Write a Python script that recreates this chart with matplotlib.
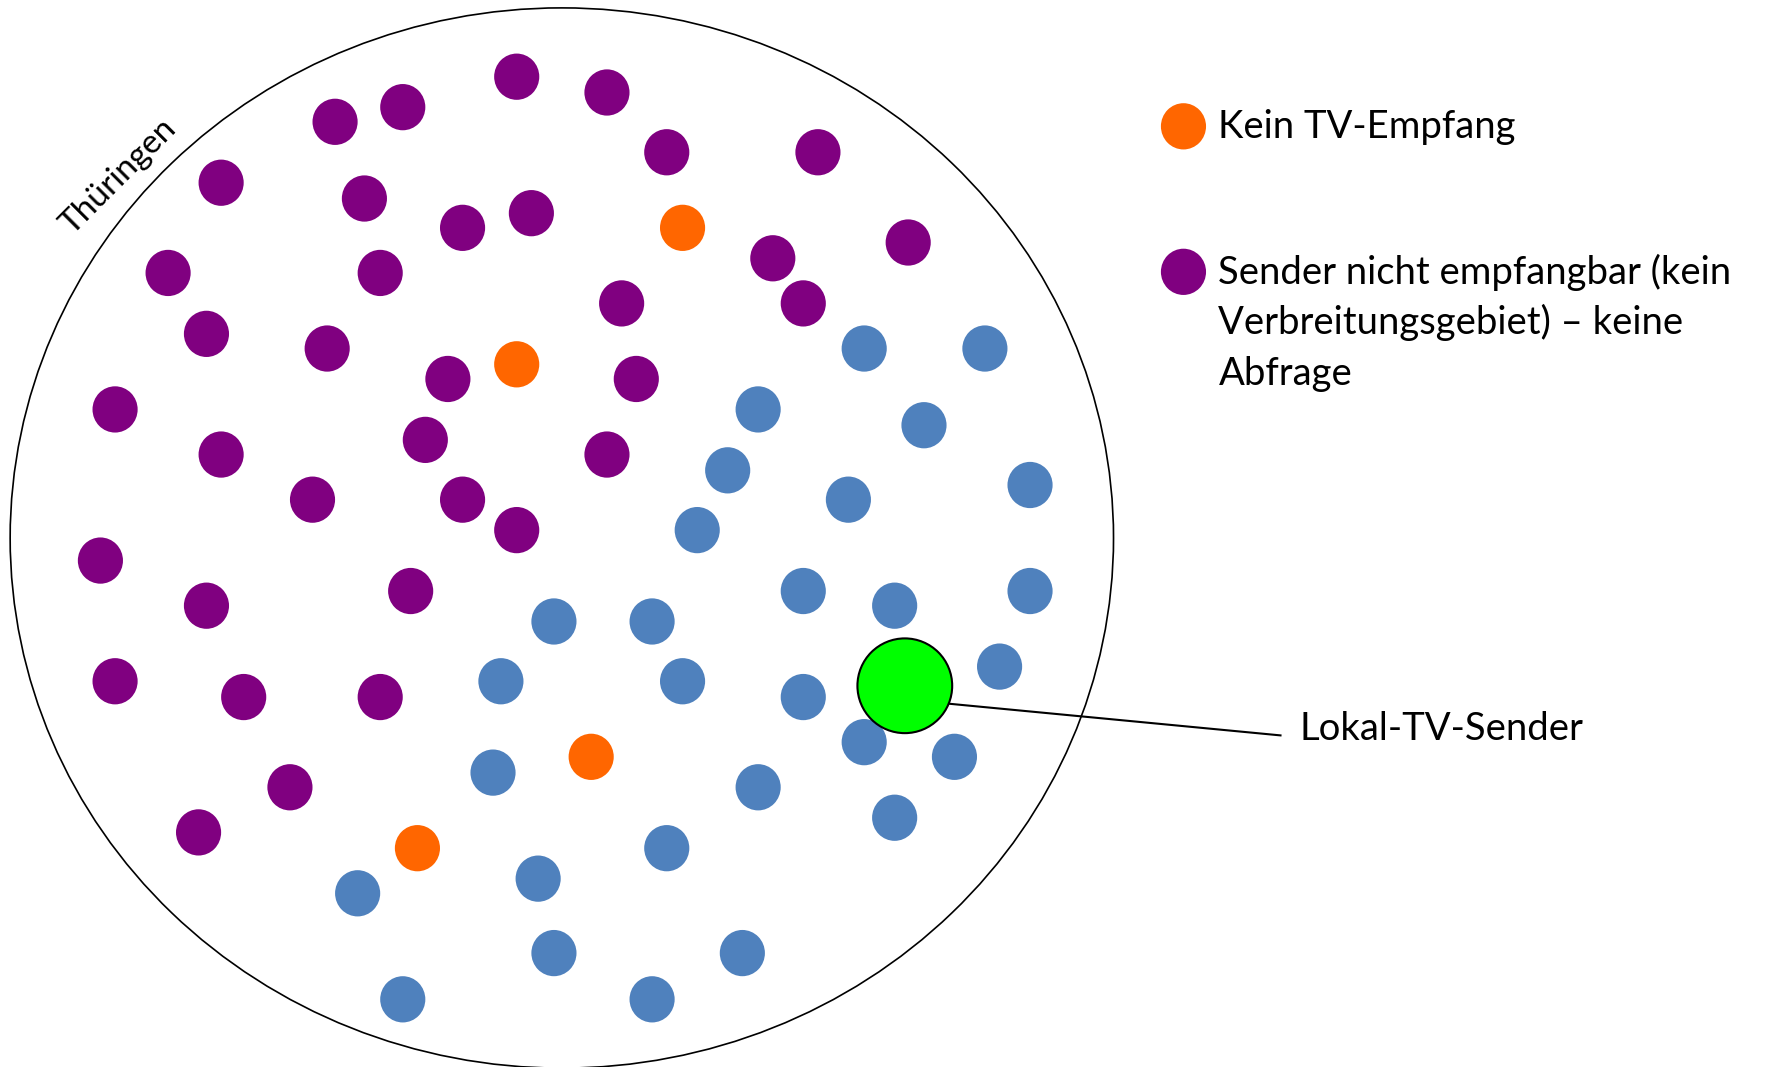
import matplotlib
matplotlib.use("Agg")
import matplotlib.pyplot as plt
from matplotlib.patches import Ellipse, Circle

# dot positions in image units (1568 x 946 canvas)
purple_x = [458, 538, 357, 297, 196, 591, 725, 323, 410, 471, 805, 685, 149, 337, 551, 712, 183, 290,
            397, 564, 102, 377, 196, 538, 277, 410, 458, 89, 364, 183, 102, 216, 337, 257, 176]
purple_y = [68, 82, 95, 108, 162, 135, 135, 176, 202, 189, 215, 229, 242, 242, 269, 269, 296, 309,
            336, 336, 363, 390, 403, 403, 443, 443, 470, 497, 524, 537, 604, 618, 618, 698, 738]
orange_x = [605, 458, 524, 370]
orange_y = [202, 323, 671, 752]
blue_x = [766, 873, 672, 819, 645, 752, 913, 618, 712, 793, 913, 491, 578, 886, 444, 605, 712, 766,
          846, 437, 672, 793, 591, 477, 317, 491, 658, 357, 578]
blue_y = [309, 309, 363, 377, 417, 443, 430, 470, 524, 537, 524, 551, 551, 591, 604, 604, 618, 658,
          671, 685, 698, 725, 752, 779, 792, 845, 845, 886, 886]
sender_x, sender_y = 802, 608

legend_labels = ["Kein TV-Empfang",
                 "Sender nicht empfangbar (kein\nVerbreitungsgebiet) \u2013 keine\nAbfrage"]
legend_colors = ["#FF6600", "#800080"]
legend_y = [112, 241]

PURPLE = "#800080"
ORANGE = "#FF6600"
BLUE = "#4F81BD"
GREEN = "#00FF00"
FONT = ["Lato", "DejaVu Sans"]

W, H = 1568, 946
fig = plt.figure(figsize=(17.69, 10.67), dpi=100)
ax = fig.add_axes([0, 0, 1, 1])
ax.set_xlim(0, W)
ax.set_ylim(H, 0)
ax.axis("off")

ax.add_patch(Ellipse((498, 477), 978, 940, fill=False, edgecolor="black", linewidth=1.2))

R = 20
for xs, ys, c in [(purple_x, purple_y, PURPLE), (orange_x, orange_y, ORANGE), (blue_x, blue_y, BLUE)]:
    for x, y in zip(xs, ys):
        ax.add_patch(Ellipse((x, y), 2 * R, 2 * R + 1, color=c, linewidth=0))

ax.plot([sender_x + 40, 1135], [sender_y + 16, 652], color="black", linewidth=1.5)
ax.add_patch(Circle((sender_x, sender_y), 42, facecolor=GREEN, edgecolor="black", linewidth=1.5, zorder=3))
ax.text(1152, 656, "Lokal-TV-Sender", fontsize=27.5, family=FONT, va="baseline", ha="left")

for lab, c, y in zip(legend_labels, legend_colors, legend_y):
    ax.add_patch(Ellipse((1049, y), 40, 41, color=c, linewidth=0))
    for i, line in enumerate(lab.split("\n")):
        ax.text(1080, y + 10.5 + 45 * i, line, fontsize=27.5, family=FONT, va="baseline", ha="left")

ax.text(105, 157, "Th\u00fcringen", fontsize=24, family=FONT, rotation=45, ha="center", va="center")

fig.savefig("out.png", dpi=100, facecolor="white")
